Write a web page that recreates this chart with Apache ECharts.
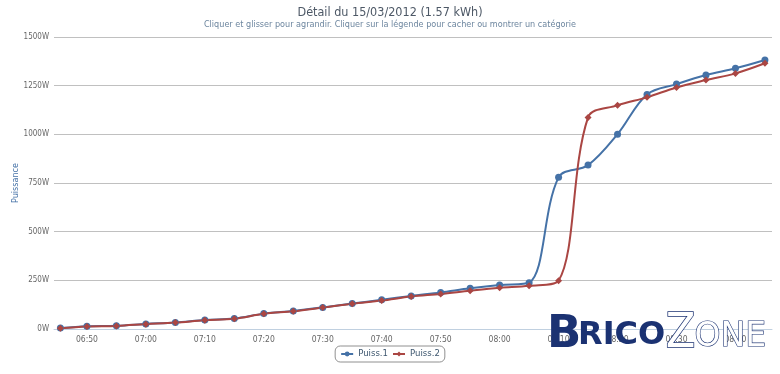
<!DOCTYPE html>
<html>
<head>
<meta charset="utf-8">
<title>Détail du 15/03/2012</title>
<script src="https://cdn.jsdelivr.net/npm/echarts@6/dist/echarts.min.js"></script>
<style>
  html, body { margin: 0; padding: 0; background: #fff; }
  #chart { width: 780px; height: 374px; }
</style>
</head>
<body>
<div id="chart"></div>
<script>
// heures des relevés (15/03/2012)
var heures = [
  "06:45:30", "06:50", "06:55", "07:00", "07:05", "07:10", "07:15", "07:20",
  "07:25", "07:30", "07:35", "07:40", "07:45", "07:50", "07:55", "08:00",
  "08:05", "08:10", "08:15", "08:20", "08:25", "08:30", "08:35", "08:40", "08:45"
];
// puissance en W
var puiss1 = [5, 14, 17, 26, 34, 46, 54, 79, 93, 111, 131, 150, 170, 188, 209, 226,
  238, 779, 842, 1001, 1205, 1258, 1305, 1339, 1382];
var puiss2 = [4, 13, 16, 25, 33, 45, 53, 78, 91, 110, 130, 146, 167, 180, 197, 212,
  222, 248, 1087, 1149, 1190, 1241, 1279, 1313, 1365];
var yTicks = [0, 250, 500, 750, 1000, 1250, 1500];
var xDebut = "06:44:25";
var xFin = "08:46:12";

function t(h) {
  var p = h.split(":");
  return new Date(2012, 2, 15, +p[0], +p[1], p[2] ? +p[2] : 0).getTime();
}
function serie(vals) {
  var out = [];
  for (var i = 0; i < heures.length; i++) {
    out.push([t(heures[i]), vals[i]]);
  }
  return out;
}
function deux(n) {
  return (n < 10 ? "0" : "") + n;
}

var police = "'DejaVu Sans Condensed', 'Liberation Sans Narrow', 'DejaVu Sans', sans-serif";
var myChart = echarts.init(document.getElementById("chart"));
var option = {
  animation: false,
  textStyle: { fontFamily: police },
  title: {
    text: "Détail du 15/03/2012 (1.57 kWh)",
    subtext: "Cliquer et glisser pour agrandir. Cliquer sur la légende pour cacher ou montrer un catégorie",
    left: "center",
    top: 1,
    itemGap: 1,
    textStyle: { color: "#4D5866", fontSize: 12.5, fontWeight: "normal", fontFamily: police },
    subtextStyle: { color: "#6D869F", fontSize: 9, fontFamily: police },
  },
  legend: {
    left: "center",
    top: 346,
    borderColor: "#909090",
    borderWidth: 1,
    borderRadius: 5,
    padding: [3, 5],
    itemGap: 4,
    itemWidth: 12,
    itemHeight: 6,
    textStyle: { color: "#3E576F", fontSize: 9.5, fontFamily: police },
    data: ["Puiss.1", "Puiss.2"],
  },
  grid: {
    left: 54,
    right: 8,
    top: 37,
    bottom: 45,
    containLabel: false,
    outerBoundsMode: "none",
  },
  xAxis: {
    type: "time",
    min: t(xDebut),
    max: t(xFin),
    splitNumber: 12,
    axisLine: { show: true, lineStyle: { color: "#C0D0E0" } },
    axisTick: { show: false },
    splitLine: { show: false },
    axisLabel: {
      color: "#666",
      fontSize: 8.5,
      fontFamily: police,
      margin: 6,
      hideOverlap: false,
      showMinLabel: false,
      showMaxLabel: false,
      formatter: function (v) {
        var d = new Date(v);
        if (d.getMinutes() % 10 !== 0 || d.getSeconds() !== 0) return "";
        return deux(d.getHours()) + ":" + deux(d.getMinutes());
      },
    },
  },
  yAxis: {
    type: "value",
    min: yTicks[0],
    max: yTicks[yTicks.length - 1],
    interval: 250,
    name: "Puissance",
    nameLocation: "middle",
    nameGap: 34,
    nameMoveOverlap: false,
    nameRotate: 90,
    nameTextStyle: { color: "#4572A7", fontSize: 9, fontFamily: police },
    axisLine: { show: false },
    axisTick: { show: false },
    splitLine: { lineStyle: { color: "#C0C0C0", width: 1 } },
    axisLabel: {
      color: "#666",
      fontSize: 8,
      fontFamily: police,
      margin: 5,
      formatter: function (v) {
        return v + "W";
      },
    },
  },
  series: [
    {
      name: "Puiss.1",
      type: "line",
      smooth: 0.35,
      symbol: "circle",
      symbolSize: 7,
      showSymbol: true,
      color: "#4572A7",
      lineStyle: { width: 2 },
      data: serie(puiss1),
    },
    {
      name: "Puiss.2",
      type: "line",
      smooth: 0.35,
      symbol: "diamond",
      symbolSize: 7,
      showSymbol: true,
      color: "#AA4643",
      lineStyle: { width: 2 },
      data: serie(puiss2),
    },
  ],
  graphic: [
    {
      type: "text",
      left: 547,
      top: 313,
      z: 100,
      style: {
        text: "B",
        fill: "#1B3272",
        font: "bold 45px 'DejaVu Sans', sans-serif",
      },
    },
    {
      type: "text",
      left: 578,
      top: 320,
      z: 100,
      style: {
        text: "RICO",
        fill: "#1B3272",
        font: "bold 32px 'DejaVu Sans', sans-serif",
      },
    },
    {
      type: "text",
      left: 665,
      top: 310,
      z: 100,
      style: {
        text: "Z",
        fill: "#fff",
        stroke: "#1B3272",
        lineWidth: 1.5,
        font: "48px 'DejaVu Sans Condensed', sans-serif",
      },
    },
    {
      type: "text",
      left: 694,
      top: 320,
      z: 100,
      style: {
        text: "ONE",
        fill: "#fff",
        stroke: "#1B3272",
        lineWidth: 1.2,
        font: "33px 'DejaVu Sans', sans-serif",
      },
    },
  ],
};

myChart.setOption(option);
window.addEventListener("resize", function () {
  myChart.resize();
});
</script>
</body>
</html>
